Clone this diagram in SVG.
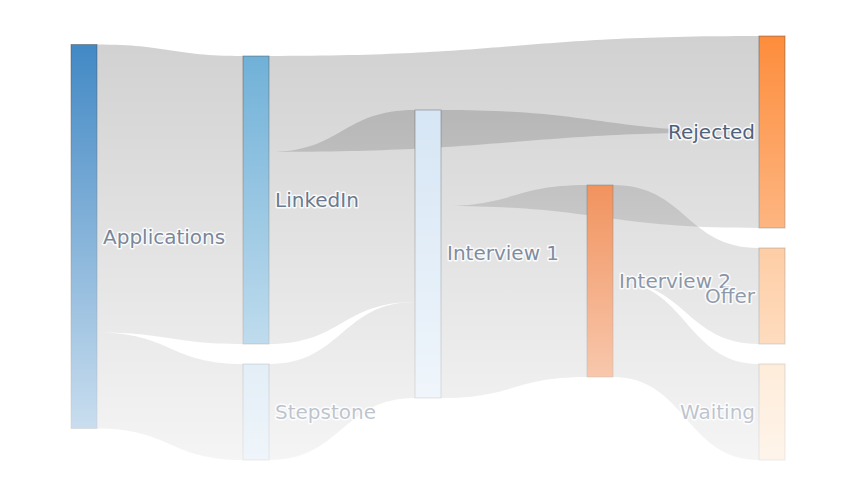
<svg xmlns="http://www.w3.org/2000/svg" width="858" height="498" viewBox="0 0 858 498">
<defs>
<linearGradient id="fade" gradientUnits="userSpaceOnUse" x1="0" y1="36" x2="0" y2="498">
<stop offset="0" stop-color="#fff" stop-opacity="0"/>
<stop offset="1" stop-color="#fff" stop-opacity="0.85"/>
</linearGradient>
</defs>
<style>
.link{fill:#000;fill-opacity:0.18;stroke:none}
.node rect{stroke:#444;stroke-opacity:0.45;stroke-width:1}
.node text{font-family:"DejaVu Sans","Liberation Sans",sans-serif;font-size:20px;fill:#2a3f5f;stroke:#fff;stroke-width:3;stroke-opacity:0.85;stroke-linejoin:round;paint-order:stroke}
.r{text-anchor:end}
</style>
<rect width="858" height="498" fill="#fff"/>
<g id="links">
<path class="link" d="M97,44.5 C170,44.5 170,56 243,56 L243,344 C170,344 170,332.5 97,332.5 Z"/>
<path class="link" d="M97,332.5 C170,332.5 170,364 243,364 L243,460 C170,460 170,428.5 97,428.5 Z"/>
<path class="link" d="M269,56 C514,56 514,36 759,36 L759,132 C514,132 514,152 269,152 Z"/>
<path class="link" d="M269,152 C342,152 342,110 415,110 L415,302 C342,302 342,344 269,344 Z"/>
<path class="link" d="M269,364 C342,364 342,302 415,302 L415,398 C342,398 342,460 269,460 Z"/>
<path class="link" d="M441,110 C600,110 600,132 759,132 L759,228 C600,228 600,206 441,206 Z"/>
<path class="link" d="M441,206 C514,206 514,185 587,185 L587,377 C514,377 514,398 441,398 Z"/>
<path class="link" d="M613,185 C686,185 686,248 759,248 L759,344 C686,344 686,281 613,281 Z"/>
<path class="link" d="M613,281 C686,281 686,364 759,364 L759,460 C686,460 686,377 613,377 Z"/>
</g>
<g id="applications" class="node"><rect x="71" y="44.5" width="26" height="384" fill="#3f87c4"/><text x="103" y="244">Applications</text></g>
<g id="linkedin" class="node"><rect x="243" y="56" width="26" height="288" fill="#6baed6"/><text x="275" y="207">LinkedIn</text></g>
<g id="stepstone" class="node"><rect x="243" y="364" width="26" height="96" fill="#b8d4ea"/><text x="275" y="419">Stepstone</text></g>
<g id="interview1" class="node"><rect x="415" y="110" width="26" height="288" fill="#d0e2f3"/><text x="447" y="260">Interview 1</text></g>
<g id="interview2" class="node"><rect x="587" y="185" width="26" height="192" fill="#ec6a22"/><text x="619" y="288">Interview 2</text></g>
<g id="rejected" class="node"><rect x="759" y="36" width="26" height="192" fill="#fd8d3c"/><text class="r" x="755" y="139">Rejected</text></g>
<g id="offer" class="node"><rect x="759" y="248" width="26" height="96" fill="#fdae6b"/><text class="r" x="755" y="303">Offer</text></g>
<g id="waiting" class="node"><rect x="759" y="364" width="26" height="96" fill="#fdd0a2"/><text class="r" x="755" y="419">Waiting</text></g>
<rect x="0" y="0" width="858" height="498" fill="url(#fade)"/>
</svg>
